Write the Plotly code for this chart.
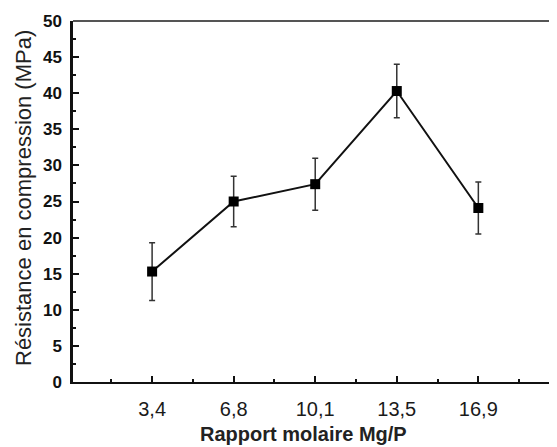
import plotly.graph_objects as go

categories = ["3,4", "6,8", "10,1", "13,5", "16,9"]
resistance = [15.3, 25.0, 27.4, 40.3, 24.1]
error = [4.0, 3.5, 3.6, 3.7, 3.6]
y_ticks = [0, 5, 10, 15, 20, 25, 30, 35, 40, 45, 50]

xpos = list(range(len(categories)))

fig = go.Figure()
fig.add_trace(go.Scatter(
    x=xpos, y=resistance,
    mode="lines+markers",
    line=dict(color="#111111", width=2),
    marker=dict(symbol="square", size=10, color="#000000"),
    error_y=dict(type="data", array=error, visible=True,
                 color="#333333", thickness=1.5, width=3),
    showlegend=False,
))

# page body has an 8px default margin; figure is sized to fit the window
fig.update_layout(
    width=549, height=439,
    margin=dict(l=65, r=2, t=13, b=65),
    paper_bgcolor="white", plot_bgcolor="white",
    font=dict(family="Liberation Sans, Arial, sans-serif", color="#111111"),
)

fig.update_xaxes(
    range=[-0.97, 4.94], automargin=False,
    tickmode="array", tickvals=xpos, ticktext=categories,
    ticks="inside", ticklen=6, tickwidth=2, tickcolor="#111111",
    minor=dict(tickmode="array", tickvals=[x - 0.5 for x in xpos] + [len(xpos) - 0.5],
               ticks="inside", ticklen=3, tickwidth=1.5, tickcolor="#111111"),
    showline=True, linecolor="#111111", linewidth=2,
    showgrid=False, zeroline=False,
    tickfont=dict(size=20, color="#1a1a1a"),
    ticklabelstandoff=8,
)

fig.update_yaxes(
    range=[0, 50], automargin=False,
    tickmode="array", tickvals=y_ticks, ticktext=[f"<b>{v}</b>" for v in y_ticks],
    ticks="inside", ticklen=6, tickwidth=2, tickcolor="#111111",
    minor=dict(dtick=2.5, ticks="inside", ticklen=3, tickwidth=1.5, tickcolor="#111111"),
    showline=True, linecolor="#111111", linewidth=2.5,
    showgrid=False, zeroline=False,
    tickfont=dict(size=17, color="#111111"),
    ticklabelstandoff=5,
)

fig.add_annotation(text="<b>Rapport molaire Mg/P</b>", xref="paper", yref="paper",
                   x=(303 - 73) / 482, y=-(434 - 382) / 361, showarrow=False,
                   xanchor="center", yanchor="middle",
                   font=dict(size=20, color="#222222"))
fig.add_annotation(text="Résistance en compression (MPa)", xref="paper", yref="paper",
                   x=-(73 - 23) / 482, y=(382 - 198) / 361, showarrow=False, textangle=-90,
                   xanchor="center", yanchor="middle",
                   font=dict(size=22, color="#222222"))

fig.add_shape(type="line", xref="paper", yref="paper", x0=0, x1=1, y0=1, y1=1,
              line=dict(color="#555555", width=2))
fig.add_shape(type="line", xref="paper", yref="paper", x0=1, x1=1, y0=0, y1=1,
              line=dict(color="#888888", width=1.5))

fig.write_html("out.html")
